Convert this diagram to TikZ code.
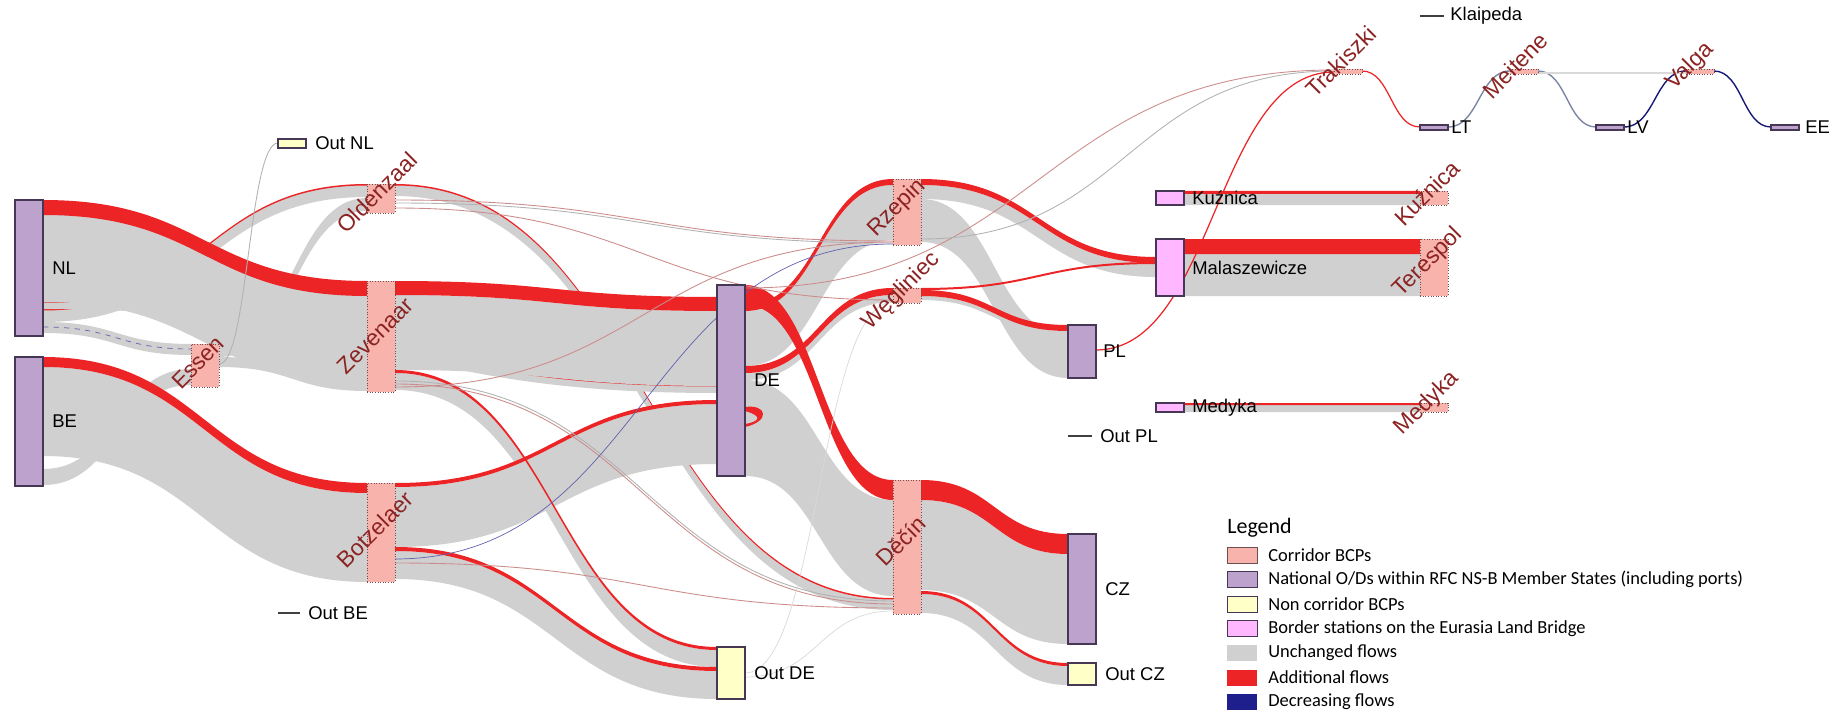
\documentclass[tikz,border=0pt]{standalone}
\usepackage{fontspec}
\setmainfont{Liberation Sans}
\newfontfamily\legendfont{Carlito}
\usetikzlibrary{positioning,calc}
\pgfdeclarelayer{flows}
\pgfsetlayers{flows,main}

\definecolor{natfill}{RGB}{190,162,206}
\definecolor{natdraw}{RGB}{70,55,85}
\definecolor{bcpfill}{RGB}{248,180,172}
\definecolor{bcpdraw}{RGB}{110,80,80}
\definecolor{nonfill}{RGB}{255,255,200}
\definecolor{bsfill}{RGB}{255,184,255}
\definecolor{unchgray}{RGB}{208,208,208}
\definecolor{addred}{RGB}{236,36,38}
\definecolor{decblue}{RGB}{30,30,140}
\definecolor{bcptext}{RGB}{140,35,35}
\definecolor{pinkline}{RGB}{205,140,140}

\newcommand{\lblfont}{\fontsize{10.5}{12}\selectfont}
\newcommand{\bcpfont}{\fontsize{13}{15}\selectfont}

% band of a flow: [style]{from}{offset}{to}{offset}{width}, all in px
\newcommand{\flowband}[6][unch]{%
  \fill[#1] let \p1=(#2.east), \p2=(#4.west) in
    ($(#2.north east)+(0,#3)$) .. controls +({(\x2-\x1)/2},0pt) and +({(\x1-\x2)/2},0pt) .. ($(#4.north west)+(0,#5)$)
    -- ($(#4.north west)+(0,{#5+#6})$) .. controls +({(\x1-\x2)/2},0pt) and +({(\x2-\x1)/2},0pt) .. ($(#2.north east)+(0,{#3+#6})$) -- cycle;}
% thin flow: [style]{from}{offset}{to}{offset}
\newcommand{\flowline}[5][thinred]{%
  \draw[#1] let \p1=(#2.east), \p2=(#4.west) in
    ($(#2.north east)+(0,#3)$) .. controls +({(\x2-\x1)/2},0pt) and +({(\x1-\x2)/2},0pt) .. ($(#4.north west)+(0,#5)$);}

\tikzset{
  box/.style={inner sep=0pt, outer sep=0pt, anchor=north west, minimum width=0.56cm},
  hgt/.style={minimum height=#1*0.02cm},
  natl/.style={box, draw=natdraw, fill=natfill, line width=0.6pt},
  bcp/.style={box, draw=bcpdraw, fill=bcpfill, densely dotted, line width=0.5pt},
  nonbcp/.style={box, draw=natdraw, fill=nonfill, line width=0.6pt},
  bstat/.style={box, draw=natdraw, fill=bsfill, line width=0.6pt},
  stub/.style={inner sep=0pt, outer sep=0pt, anchor=west, fill=black!75, minimum height=0.025cm, minimum width=#1*0.02cm},
  lbl/.style={inner sep=0pt, font=\lblfont},
  bcplbl/.style={inner sep=0pt, rotate=45, font=\bcpfont, text=bcptext},
  unch/.style={fill=unchgray},
  addf/.style={fill=addred},
  thinred/.style={draw=addred, line width=0.7pt},
  thinpink/.style={draw=pinkline, line width=0.5pt},
  thingray/.style={draw=gray!60, line width=0.5pt},
  thinblue/.style={draw=decblue!70, line width=0.4pt},
  thinsteel/.style={draw={rgb,255:red,125;green,135;blue,165}, line width=0.8pt},
  thinnavy/.style={draw=decblue!85!black, line width=0.8pt},
  thinlight/.style={draw=gray!30, line width=0.8pt},
  thinfaint/.style={draw=gray!30, line width=0.4pt},
  swatch/.style={inner sep=0pt, outer sep=0pt, anchor=west, minimum width=0.6cm, minimum height=0.32cm},
  lgtxt/.style={inner sep=0pt, font=\legendfont\fontsize{10.5}{12}\selectfont},
}

\begin{document}
\begin{tikzpicture}[x=0.02cm, y=-0.02cm]
    \useasboundingbox (0,0) rectangle (1837,713);

    % stations
    \draw node at (15,200)[name=NL, natl, hgt=136]{};
    \draw node at (15,357)[name=BE, natl, hgt=129]{};
    \draw node at (278,139)[name=OutNL, nonbcp, hgt=9]{};
    \draw node at (191,344)[name=Essen, bcp, hgt=43]{};
    \draw node at (367,184)[name=Old, bcp, hgt=29]{};
    \draw node at (367,281)[name=Zev, bcp, hgt=111]{};
    \draw node at (367,483)[name=Botz, bcp, hgt=99]{};
    \draw node at (278,613)[name=OutBE, stub=22]{};
    \draw node at (717,285)[name=DE, natl, hgt=191]{};
    \draw node at (717,647)[name=OutDE, nonbcp, hgt=52]{};
    \draw node at (893,179)[name=Rz, bcp, hgt=66]{};
    \draw node at (893,288)[name=Weg, bcp, hgt=15]{};
    \draw node at (893,480)[name=Dec, bcp, hgt=134]{};
    \draw node at (1068,325)[name=PL, natl, hgt=53]{};
    \draw node at (1068,436)[name=OutPL, stub=24]{};
    \draw node at (1068,534)[name=CZ, natl, hgt=110]{};
    \draw node at (1068,663)[name=OutCZ, nonbcp, hgt=22]{};
    \draw node at (1156,191)[name=Kuz, bstat, hgt=14]{};
    \draw node at (1156,239)[name=Mal, bstat, hgt=57]{};
    \draw node at (1156,403)[name=Med, bstat, hgt=9]{};
    \draw node at (1420,191)[name=KuzB, bcp, hgt=14]{};
    \draw node at (1420,239)[name=Ter, bcp, hgt=57]{};
    \draw node at (1420,403)[name=MedB, bcp, hgt=9]{};
    \draw node at (1420,16)[name=Klai, stub=24]{};
    \draw node at (1334,69)[name=Trak, bcp, hgt=5]{};
    \draw node at (1420,125)[name=LT, natl, hgt=5]{};
    \draw node at (1510,69)[name=Mei, bcp, hgt=5]{};
    \draw node at (1596,125)[name=LV, natl, hgt=5]{};
    \draw node at (1686,69)[name=Val, bcp, hgt=5]{};
    \draw node at (1771,125)[name=EE, natl, hgt=5]{};

    \begin{pgfonlayer}{flows}
      % flows that pass behind the big bands
      \flowband{NL}{110}{Old}{1}{12}
      \flowband[addf]{NL}{109}{Old}{0}{1.5}
      \flowband{Essen}{0}{Old}{14}{13}
      \flowband{Old}{1}{Dec}{119}{11}
      \flowband[addf]{Old}{0}{Dec}{118}{1.5}
      \flowband{NL}{102}{DE}{101}{7}
      \flowband[addf]{NL}{101}{DE}{100}{1.5}

      % unchanged flows
      \flowband{NL}{14}{Zev}{14}{88}
      \flowband{NL}{122}{Essen}{0}{11}
      \flowband{Essen}{13}{Zev}{100}{10}
      \flowband{BE}{10}{Botz}{10}{89}
      \flowband{BE}{112}{Essen}{25}{16}
      \flowband{Zev}{14}{DE}{26}{75}
      \flowband{Zev}{92}{OutDE}{3}{17}
      \flowband{Botz}{4}{DE}{119}{60}
      \flowband{Botz}{68}{OutDE}{24}{28}
      \flowband{DE}{26}{Rz}{6}{55}
      \flowband{DE}{88}{Weg}{7}{7}
      \flowband{DE}{95}{Dec}{20}{96}
      \flowband{Rz}{6}{Mal}{24}{14}
      \flowband{Rz}{20}{PL}{10}{43}
      \flowband{Weg}{8}{PL}{6}{4}
      \flowband{Mal}{15}{Ter}{15}{42}
      \flowband{Kuz}{3}{KuzB}{3}{11}
      \flowband{Med}{2}{MedB}{2}{7}
      \flowband{Dec}{20}{CZ}{20}{90}
      \flowband{Dec}{114}{OutCZ}{3}{19}

      % additional flows
      \flowband[addf]{NL}{0}{Zev}{0}{15}
      \flowband[addf]{BE}{0}{Botz}{0}{10}
      \flowband[addf]{Zev}{0}{DE}{12}{14}
      \flowband[addf]{Zev}{89}{OutDE}{0}{3}
      \flowband[addf]{Botz}{0}{DE}{115}{4}
      \flowband[addf]{Botz}{64}{OutDE}{20}{4}
      \flowband[addf]{DE}{0}{Dec}{0}{20}
      \flowband[addf]{DE}{20}{Rz}{0}{6}
      \flowband[addf]{DE}{81}{Weg}{0}{7}
      \flowband[addf]{Rz}{0}{Mal}{18}{6}
      \flowband[addf]{Weg}{0}{Mal}{23}{2}
      \flowband[addf]{Weg}{2}{PL}{0}{6}
      \flowband[addf]{Mal}{0}{Ter}{0}{15}
      \flowband[addf]{Kuz}{0}{KuzB}{0}{3}
      \flowband[addf]{Med}{0}{MedB}{0}{2}
      \flowband[addf]{Dec}{0}{CZ}{0}{20}
      \flowband[addf]{Dec}{111}{OutCZ}{0}{3}
      \fill[addf] ($(DE.north east)+(0,122)$) .. controls +(22,-3) and +(26,-6) .. ($(DE.north east)+(0,142)$)
        -- ++(0,-3) .. controls +(18,-3) and +(15,4) .. ($(DE.north east)+(0,126)$) -- cycle;

      % small flows
      \flowline[thingray]{Essen}{20}{OutNL}{4}
      \flowline[thinblue, dashed]{NL}{127}{Essen}{5}
      \flowline[thinpink]{Old}{16}{Rz}{62}
      \flowline[thingray]{Old}{19}{Rz}{64}
      \flowline[thinpink]{Old}{24}{Weg}{12}
      \flowline[thingray]{Zev}{100}{Dec}{121}
      \flowline[thinpink]{Zev}{103}{Dec}{124}
      \flowline[thinpink]{Zev}{106}{Rz}{63}
      \flowline[thinpink]{Botz}{80}{Dec}{128}
      \flowline[thinblue]{Botz}{76}{Rz}{65}
      \flowline[thinpink]{DE}{3}{Trak}{1}
      \flowline[thingray]{Rz}{60}{Trak}{2}
      \flowline[thinred]{PL}{25}{Trak}{3}
      \flowline[thinfaint]{OutDE}{26}{Weg}{14}
      \flowline[thinfaint]{OutDE}{30}{Dec}{131}
      \flowline[thinred]{Trak}{2}{LT}{2}
      \flowline[thinsteel]{LT}{2}{Mei}{2}
      \flowline[thinsteel]{Mei}{2}{LV}{2}
      \flowline[thinnavy]{LV}{2}{Val}{2}
      \flowline[thinnavy]{Val}{2}{EE}{2}
      \flowline[thinlight]{Mei}{4}{Val}{4}
    \end{pgfonlayer}

    % station labels
    \draw node[right=0.18cm of NL, name=NLt, lbl]{NL};
    \draw node[right=0.18cm of BE, name=BEt, lbl]{BE};
    \draw node[right=0.18cm of OutNL, name=OutNLt, lbl]{Out NL};
    \draw node[right=0.16cm of OutBE, name=OutBEt, lbl]{Out BE};
    \draw node[right=0.18cm of DE, name=DEt, lbl]{DE};
    \draw node[right=0.18cm of OutDE, name=OutDEt, lbl]{Out DE};
    \draw node[right=0.14cm of PL, name=PLt, lbl]{PL};
    \draw node[right=0.16cm of OutPL, name=OutPLt, lbl]{Out PL};
    \draw node[right=0.18cm of CZ, name=CZt, lbl]{CZ};
    \draw node[right=0.18cm of OutCZ, name=OutCZt, lbl]{Out CZ};
    \draw node[right=0.16cm of Kuz, name=Kuzt, lbl]{Kuźnica};
    \draw node[right=0.16cm of Mal, name=Malt, lbl]{Malaszewicze};
    \draw node[right=0.16cm of Med, name=Medt, lbl]{Medyka};
    \draw node[right=0.12cm of Klai, name=Klait, lbl]{Klaipeda};
    \draw node[right=0.06cm of LT, name=LTt, lbl]{LT};
    \draw node[right=0.06cm of LV, name=LVt, lbl]{LV};
    \draw node[right=0.12cm of EE, name=EEt, lbl]{EE};

    % corridor BCP labels
    \draw node at ($(Old.center)+(-4,-6)$)[name=Oldt, bcplbl]{Oldenzaal};
    \draw node at ($(Zev.center)+(-6,-1)$)[name=Zevt, bcplbl]{Zevenaar};
    \draw node at ($(Essen.center)+(-7,-3)$)[name=Essent, bcplbl]{Essen};
    \draw node at ($(Botz.center)+(-6,-3)$)[name=Botzt, bcplbl]{Botzelaer};
    \draw node at ($(Rz.center)+(-10,-4)$)[name=Rzt, bcplbl]{Rzepin};
    \draw node at ($(Weg.center)+(-6,-4)$)[name=Wegt, bcplbl]{Węgliniec};
    \draw node at ($(Dec.center)+(-6,-6)$)[name=Dect, bcplbl]{Děčín};
    \draw node at ($(KuzB.center)+(-7,-5)$)[name=KuzBt, bcplbl]{Kuźnica};
    \draw node at ($(Ter.center)+(-6,-5)$)[name=Tert, bcplbl]{Terespol};
    \draw node at ($(MedB.center)+(-7,-4)$)[name=MedBt, bcplbl]{Medyka};
    \draw node at ($(Trak.center)+(-7,-10)$)[name=Trakt, bcplbl]{Trakiszki};
    \draw node at ($(Mei.center)+(-9,-6)$)[name=Meit, bcplbl]{Meitene};
    \draw node at ($(Val.center)+(-10,-5)$)[name=Valt, bcplbl]{Valga};

    % legend
    \draw node at (1227,528)[name=lgTitle, anchor=west, inner sep=0pt, font=\legendfont\fontsize{12.5}{14}\selectfont]{Legend};
    \draw node at (1227,555)[name=lgBCP, swatch, fill=bcpfill, draw=bcpdraw]{};
    \draw node at (1227,579.5)[name=lgNat, swatch, fill=natfill, draw=natdraw]{};
    \draw node at (1227,604)[name=lgNon, swatch, fill=nonfill, draw=natdraw]{};
    \draw node at (1227,628.5)[name=lgBS, swatch, fill=bsfill, draw=natdraw]{};
    \draw node at (1227,653)[name=lgUnch, swatch, fill=unchgray]{};
    \draw node at (1227,677.5)[name=lgAdd, swatch, fill=addred]{};
    \draw node at (1227,702)[name=lgDec, swatch, fill=decblue]{};
    \draw node[right=0.22cm of lgBCP, name=lgBCPt, lgtxt]{Corridor BCPs};
    \draw node[right=0.22cm of lgNat, name=lgNatt, lgtxt]{National O/Ds within RFC NS-B Member States (including ports)};
    \draw node[right=0.22cm of lgNon, name=lgNont, lgtxt]{Non corridor BCPs};
    \draw node[right=0.22cm of lgBS, name=lgBSt, lgtxt]{Border stations on the Eurasia Land Bridge};
    \draw node[right=0.22cm of lgUnch, name=lgUncht, lgtxt]{Unchanged flows};
    \draw node[right=0.22cm of lgAdd, name=lgAddt, lgtxt]{Additional flows};
    \draw node[right=0.22cm of lgDec, name=lgDect, lgtxt]{Decreasing flows};
\end{tikzpicture}
\end{document}
